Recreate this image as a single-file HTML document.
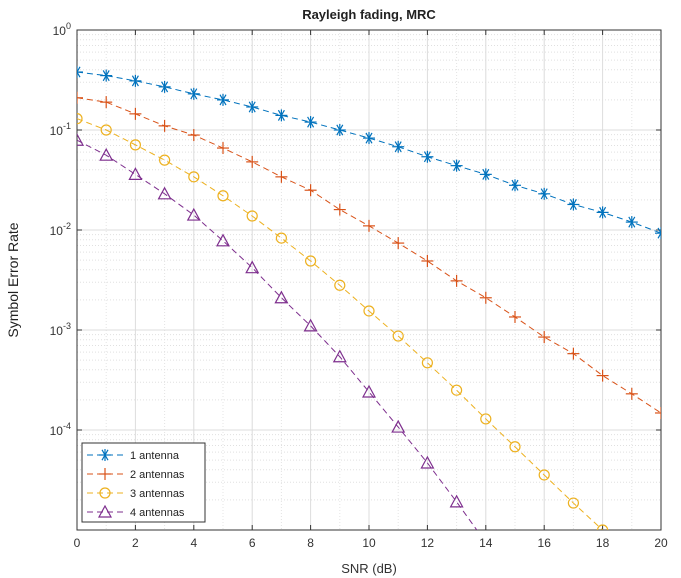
<!DOCTYPE html>
<html><head><meta charset="utf-8"><style>
body{margin:0;background:#fff;}
svg{display:block;font-family:"Liberation Sans",Arial,sans-serif;}
</style></head><body>
<svg id="chart" width="681" height="578" viewBox="0 0 681 578">
<rect x="0" y="0" width="681" height="578" fill="#fff"/>
<g id="grid"></g>
<g id="axes"></g>
<g id="series"></g>
<text x="369" y="19" text-anchor="middle" font-size="13" font-weight="bold" fill="#222">Rayleigh fading, MRC</text>
<text x="369" y="573" text-anchor="middle" font-size="13" fill="#333">SNR (dB)</text>
<text transform="translate(18,280) rotate(-90)" text-anchor="middle" font-size="14" fill="#222">Symbol Error Rate</text>
<g id="legend"></g>
</svg>
<script>
const snr = [0,1,2,3,4,5,6,7,8,9,10,11,12,13,14,15,16,17,18,19,20];
const ser1 = [0.38,0.35,0.31,0.27,0.23,0.20,0.17,0.14,0.12,0.10,0.083,0.068,0.054,0.044,0.036,0.028,0.023,0.018,0.015,0.012,0.0093];
const ser2 = [0.21,0.19,0.145,0.11,0.089,0.066,0.048,0.034,0.025,0.016,0.011,0.0074,0.0049,0.0031,0.0021,0.00135,0.00085,0.00058,0.00035,0.00023,0.000148];
const ser3 = [0.13,0.10,0.071,0.050,0.034,0.022,0.0138,0.0083,0.0049,0.0028,0.00155,0.00087,0.00047,0.00025,0.000129,0.000068,0.0000355,0.0000186,0.00001];
const ser4 = [0.079,0.056,0.036,0.023,0.0141,0.0078,0.0042,0.0021,0.0011,0.00054,0.00024,0.000107,0.0000468,0.0000191,0.0000075];
const seriesNames = ["1 antenna","2 antennas","3 antennas","4 antennas"];
const xTicks = [0,2,4,6,8,10,12,14,16,18,20];
const yDecades = [0,-1,-2,-3,-4];

const L=77,R=661,T=30,B=530;
const NS="http://www.w3.org/2000/svg";
const xS=v=>L+(v-0)/(20-0)*(R-L);
const yS=v=>T+(0-Math.log10(v))/5*(B-T);
function mk(tag,attrs,parent){const e=document.createElementNS(NS,tag);for(const k in attrs)e.setAttribute(k,attrs[k]);parent.appendChild(e);return e;}
const grid=document.getElementById('grid'),axes=document.getElementById('axes'),ser=document.getElementById('series'),leg=document.getElementById('legend');
mk('rect',{x:L,y:T,width:R-L,height:B-T,fill:'#fff'},grid);
// minor x grid
for(let v=1;v<20;v+=1){if(v%2===0)continue;const l=mk('line',{x1:xS(v),x2:xS(v),y1:T,y2:B,stroke:'#e4e4e4','stroke-width':1,'stroke-dasharray':'1,2'},grid);}
// minor y grid
for(let d=-5;d<0;d++){for(let m=2;m<10;m++){const y=yS(m*Math.pow(10,d));const l=mk('line',{x1:L,x2:R,y1:y,y2:y,stroke:'#e0e0e0','stroke-width':1,'stroke-dasharray':'1,2'},grid);}}
xTicks.forEach(v=>{const l=mk('line',{x1:xS(v),x2:xS(v),y1:T,y2:B,stroke:'#dcdcdc','stroke-width':1},grid);
 const t=mk('text',{x:xS(v),y:B+17,'text-anchor':'middle','font-size':12,fill:'#333'},axes);t.textContent=v;
 mk('line',{x1:xS(v),x2:xS(v),y1:B,y2:B-5,stroke:'#333'},axes);mk('line',{x1:xS(v),x2:xS(v),y1:T,y2:T+5,stroke:'#333'},axes);});
yDecades.forEach(d=>{const y=yS(Math.pow(10,d));const l=mk('line',{x1:L,x2:R,y1:y,y2:y,stroke:'#dcdcdc'},grid);
 const t=mk('text',{x:L-6,y:y+5,'text-anchor':'end','font-size':12,fill:'#333'},axes);
 t.textContent='10';const s=mk('tspan',{dy:-6,'font-size':9},t);s.textContent=String(d);
 mk('line',{x1:L,x2:L+5,y1:y,y2:y,stroke:'#333'},axes);mk('line',{x1:R,x2:R-5,y1:y,y2:y,stroke:'#333'},axes);});
const box=mk('rect',{x:L,y:T,width:R-L,height:B-T,fill:'none',stroke:'#333','stroke-width':1},axes);
mk('clipPath',{id:'clp'},ser);mk('rect',{x:L,y:T,width:R-L,height:B-T},ser.lastChild);
const colors=['#0072BD','#D95319','#EDB120','#7E2F8E'];
function marker(kind,x,y,c,p){
 if(kind===0){[0,60,120].forEach(a=>{const r=a*Math.PI/180;mk('line',{x1:x-6*Math.cos(r),y1:y-6*Math.sin(r),x2:x+6*Math.cos(r),y2:y+6*Math.sin(r),stroke:c,'stroke-width':1.2},p);});mk('line',{x1:x,y1:y-6,x2:x,y2:y+6,stroke:c,'stroke-width':1.2},p);}
 else if(kind===1){mk('line',{x1:x-6,y1:y,x2:x+6,y2:y,stroke:c,'stroke-width':1.2},p);mk('line',{x1:x,y1:y-6,x2:x,y2:y+6,stroke:c,'stroke-width':1.2},p);}
 else if(kind===2){mk('circle',{cx:x,cy:y,r:5,fill:'none',stroke:c,'stroke-width':1.2},p);}
 else{mk('polygon',{points:`${x},${y-6} ${x-6},${y+5} ${x+6},${y+5}`,fill:'none',stroke:c,'stroke-width':1.2},p);}
}
[ser1,ser2,ser3,ser4].forEach((arr,i)=>{
 const g=mk('g',{'clip-path':'url(#clp)'},ser);
 const pts=arr.map((v,j)=>xS(snr[j])+','+yS(v)).join(' ');
 mk('polyline',{points:pts,fill:'none',stroke:colors[i],'stroke-width':1,'stroke-dasharray':'6,4'},g);
 arr.forEach((v,j)=>{if(yS(v)<=B+1)marker(i,xS(snr[j]),yS(v),colors[i],g);});
});
const lb=mk('rect',{x:82,y:443,width:123,height:79,fill:'#fff',stroke:'#333'},leg);
seriesNames.forEach((n,i)=>{const y=455+i*19;const g=mk('g',{},leg);
 mk('line',{x1:87,x2:123,y1:y,y2:y,stroke:colors[i],'stroke-dasharray':'6,4'},g);marker(i,105,y,colors[i],g);
 const t=mk('text',{x:130,y:y+4,'font-size':11,fill:'#222'},g);t.textContent=n;});
</script>
</body></html>
